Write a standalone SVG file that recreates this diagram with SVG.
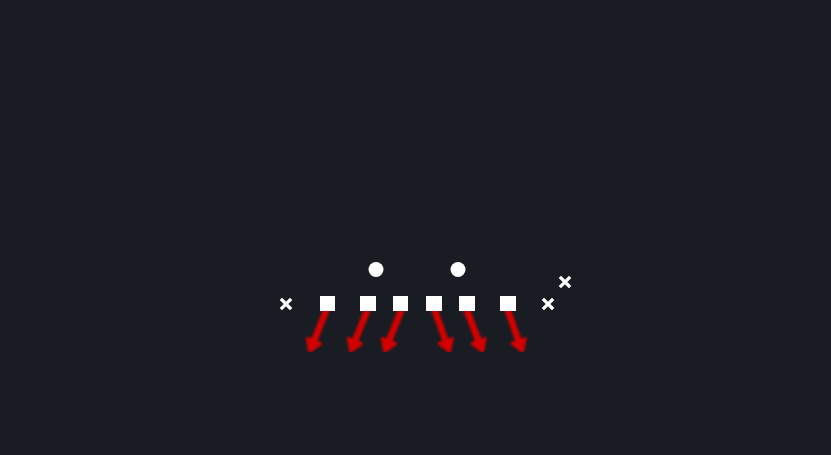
<svg xmlns="http://www.w3.org/2000/svg" width="831" height="455" viewBox="0 0 831 455">
<style>
.lineman{fill:#ffffff}
.back{fill:#ffffff}
.def{stroke:#ffffff;stroke-width:3.2;stroke-linecap:square}
.route{stroke:#d40000;stroke-width:6.5;fill:none;stroke-linecap:round}
</style>
<defs>
<marker id="ah" markerWidth="16" markerHeight="18" refX="3" refY="9" orient="auto" markerUnits="userSpaceOnUse">
<path d="M2,2 L13,9 L2,16 Z" fill="#d40000" stroke="#d40000" stroke-width="3" stroke-linejoin="round"/>
</marker>
<filter id="soft" x="-30%" y="-30%" width="160%" height="160%"><feGaussianBlur stdDeviation="1.3"/></filter>
</defs>
<rect width="831" height="455" fill="#191c22"/>
<g id="connectors" filter="url(#soft)">
<path class="route" d="M326,311 L313.5,342" marker-end="url(#ah)"/>
<path class="route" d="M367,311 L354.5,342" marker-end="url(#ah)"/>
<path class="route" d="M401,311 L388.5,342" marker-end="url(#ah)"/>
<path class="route" d="M435,311 L446,342" marker-end="url(#ah)"/>
<path class="route" d="M467,311 L479,342" marker-end="url(#ah)"/>
<path class="route" d="M508,311 L519,342" marker-end="url(#ah)"/>
</g>
<g id="ol1"><rect class="lineman" x="320" y="296" width="15" height="15"/></g>
<g id="ol2"><rect class="lineman" x="360" y="296" width="16" height="15"/></g>
<g id="ol3"><rect class="lineman" x="393" y="296" width="15" height="15"/></g>
<g id="ol4"><rect class="lineman" x="426" y="296" width="16" height="15"/></g>
<g id="ol5"><rect class="lineman" x="459" y="296" width="16" height="15"/></g>
<g id="ol6"><rect class="lineman" x="500" y="296" width="16" height="15"/></g>
<g id="b1"><circle class="back" cx="376" cy="269.5" r="7.5"/></g>
<g id="b2"><circle class="back" cx="458" cy="269.5" r="7.5"/></g>
<g id="x1"><path class="def" d="M282,300 L290,308 M290,300 L282,308"/></g>
<g id="x2"><path class="def" d="M544,300 L552,308 M552,300 L544,308"/></g>
<g id="x3"><path class="def" d="M561,278 L569,286 M569,278 L561,286"/></g>
</svg>
